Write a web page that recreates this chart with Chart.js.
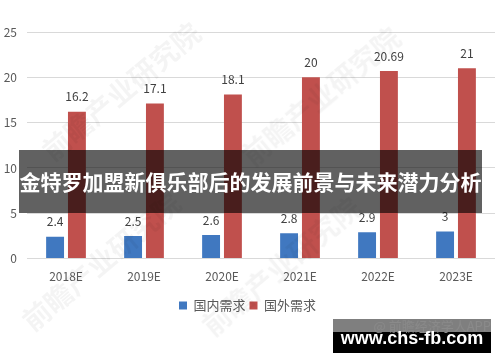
<!DOCTYPE html>
<html>
<head>
<meta charset="utf-8">
<script src="https://cdn.jsdelivr.net/npm/chart.js@4"></script>
<style>
  html, body { margin: 0; padding: 0; background: #fff; }
  #wrap { position: relative; width: 500px; height: 362px; overflow: hidden; }
  #chart { position: absolute; left: 0; top: 0; }
  .wm { position: absolute; color: rgba(0,0,0,0.045); font: bold 28px "Noto Sans CJK SC"; transform: rotate(-40deg); transform-origin: left bottom; white-space: nowrap; line-height: 30px; }
  #banner { position: absolute; left: 19px; top: 150px; width: 463px; height: 63px; background: rgba(0,0,0,0.62);
            color: #fff; font: bold 21px "Noto Sans CJK SC"; line-height: 63px; text-align: center; white-space: nowrap; }
  #site { position: absolute; left: 333px; top: 319px; width: 158px; height: 34px; }
  #site .top { position: absolute; left: 0; top: 0; width: 158px; height: 13px; background: rgba(0,0,0,0.5); }
  #site .bot { position: absolute; left: 0; top: 13px; width: 158px; height: 21px; background: #000; }
  #site .src { position: absolute; right: 0; top: 0; color: #8a8a8a; font: 13px "Noto Sans CJK SC"; line-height: 13px; white-space: nowrap; }
  #site .url { position: absolute; left: 0; top: 9px; width: 158px; text-align: center; color: #fff; font: bold 18px "Liberation Sans"; line-height: 20px; }
</style>
</head>
<body>
<div id="wrap">
  <canvas id="chart" width="500" height="362"></canvas>
  <div class="wm" style="left:55px; top:135px;">前瞻产业研究院</div>
  <div class="wm" style="left:35px; top:305px;">前瞻产业研究院</div>
  <div class="wm" style="left:255px; top:140px;">前瞻产业研究院</div>
  <div class="wm" style="left:215px; top:310px;">前瞻产业研究院</div>
  <div id="banner">金特罗加盟新俱乐部后的发展前景与未来潜力分析</div>
  <div id="site">
    <div class="top"></div>
    <div class="bot"></div>
    <div class="src">@ 前瞻经济学人APP</div>
    <div class="url">www.chs-fb.com</div>
  </div>
</div>
<script>
const years = ["2018E", "2019E", "2020E", "2021E", "2022E", "2023E"];
const domesticDemand = [2.4, 2.5, 2.6, 2.8, 2.9, 3];
const foreignDemand = [16.2, 17.1, 18.1, 20, 20.69, 21];
const seriesNames = ["国内需求", "国外需求"];
const yTicks = [0, 5, 10, 15, 20, 25];

const font = "'Noto Sans CJK SC', 'Liberation Sans', sans-serif";

// value labels above each bar
const valueLabels = {
  id: 'valueLabels',
  afterDatasetsDraw(chart) {
    const ctx = chart.ctx;
    ctx.save();
    ctx.fillStyle = '#404040';
    ctx.font = "12px " + font;
    ctx.textAlign = 'center';
    ctx.textBaseline = 'bottom';
    chart.data.datasets.forEach((ds, i) => {
      chart.getDatasetMeta(i).data.forEach((bar, j) => {
        ctx.fillText(String(ds.data[j]), bar.x, bar.y - 9);
      });
    });
    ctx.restore();
  }
};

new Chart(document.getElementById('chart').getContext('2d'), {
  type: 'bar',
  data: {
    labels: years,
    datasets: [
      { label: seriesNames[0], data: domesticDemand, backgroundColor: '#4078c0' },
      { label: seriesNames[1], data: foreignDemand, backgroundColor: '#c0504d' }
    ]
  },
  options: {
    responsive: false,
    animation: false,
    categoryPercentage: 0.56,
    barPercentage: 0.82,
    layout: { padding: { top: 32, right: 5, left: 0, bottom: 40 } },
    plugins: {
      tooltip: { enabled: false },
      legend: {
        position: 'bottom',
        labels: { boxWidth: 8, boxHeight: 8, padding: 4, color: '#595959', font: { family: font, size: 13 } }
      }
    },
    scales: {
      x: {
        grid: { display: false, drawTicks: false },
        border: { display: false },
        ticks: { color: '#595959', padding: 11, font: { family: font, size: 12 } }
      },
      y: {
        min: 0,
        max: 25,
        afterFit: s => { s.width = 27; },
        afterBuildTicks: s => { s.ticks = yTicks.map(v => ({ value: v })); },
        grid: { color: '#d9d9d9', drawTicks: false },
        border: { display: false },
        ticks: { color: '#595959', padding: 10, font: { family: font, size: 12 } }
      }
    }
  },
  plugins: [valueLabels]
});
</script>
</body>
</html>
